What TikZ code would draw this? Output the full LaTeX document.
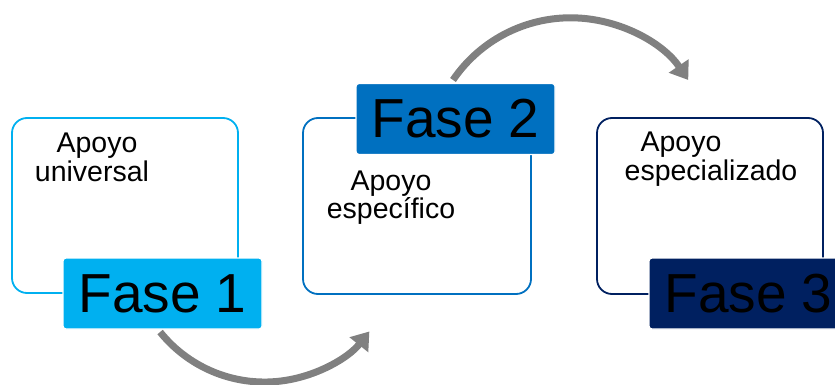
\documentclass[tikz,border=0pt]{standalone}
\usepackage{fontspec}
\setmainfont{Liberation Sans}
\usetikzlibrary{arrows.meta}
\definecolor{cOne}{HTML}{00B0F0}
\definecolor{cTwo}{HTML}{0070C0}
\definecolor{cThree}{HTML}{002060}
\definecolor{cArrow}{HTML}{808080}
\tikzset{
  panel/.style={draw, rounded corners=15pt, line width=1.8pt, fill=white},
  phase/.style={rounded corners=3pt, minimum width=199pt, minimum height=71pt,
    inner sep=0pt, font=\fontsize{55}{60}\selectfont, text=black, draw=white, line width=1.2pt},
  bodytext/.style={anchor=base, inner sep=0pt, font=\fontsize{28.5}{29}\selectfont},
  flow/.style={draw=cArrow, line width=7pt, -{Triangle[length=17pt,width=23pt]}}
}
\begin{document}
\begin{tikzpicture}[x=1pt,y=-1pt]
\useasboundingbox (0,0) rectangle (835,385);
% panels
\node[panel, draw=cOne, minimum width=226pt, minimum height=175pt] (b1) at (125,205.5) {};
\node[panel, draw=cTwo, minimum width=228pt, minimum height=176pt] (b2) at (417,206) {};
\node[panel, draw=cThree, minimum width=226pt, minimum height=176pt] (b3) at (710,206) {};
% body texts
\node[bodytext] (t1a) at (97,153) {Apoyo};
\node[bodytext] (t1b) at (92,181) {universal};
\node[bodytext] (t2a) at (391,190) {Apoyo};
\node[bodytext] (t2b) at (391,218) {específico};
\node[bodytext] (t3a) at (681,152) {Apoyo};
\node[bodytext] (t3b) at (711,180) {especializado};
% phase labels
\node[phase, fill=cOne] (f1) at (162.5,293.5) {Fase 1};
\node[phase, fill=cTwo] (f2) at (455.5,119) {Fase 2};
\node[phase, fill=cThree] (f3) at (748.5,293.5) {Fase 3};
% arrows
\coordinate (a1s) at (160.1,332);
\coordinate (a2s) at (453,80);
\draw[flow] (a1s) arc[start angle=141.2, end angle=38.5, radius=134];
\draw[flow] (a2s) arc[start angle=214.25, end angle=325.75, radius=142.3];
\end{tikzpicture}
\end{document}
